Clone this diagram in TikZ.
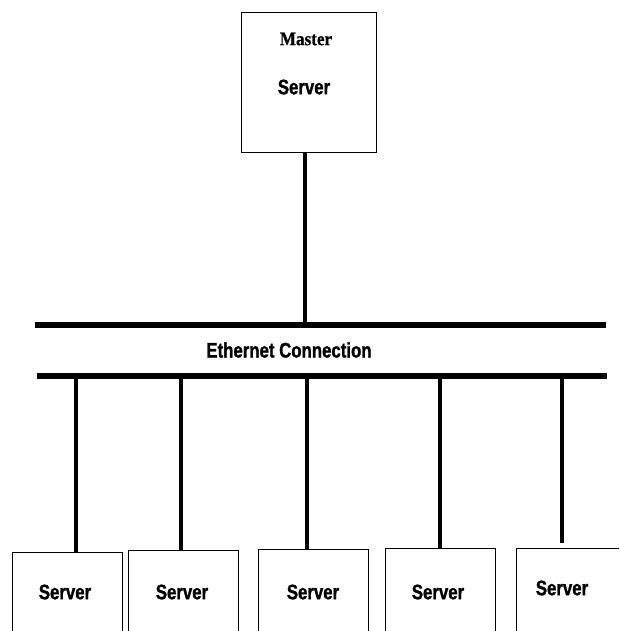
\documentclass[tikz,border=0pt]{standalone}
\usepackage{fontspec}
\newfontfamily\narrowsans[FakeStretch=0.8,FakeBold=1.2]{Liberation Sans}
\newfontfamily\narrowserif[FakeStretch=0.9,FakeBold=0.8]{Liberation Serif}
\begin{document}
\begin{tikzpicture}[x=1pt,y=-1pt,
  box/.style={draw,line width=0.9pt,rectangle,anchor=north west,inner sep=0pt},
  masterbox/.style={draw,line width=1.3pt,rectangle,anchor=north west,inner sep=0pt,
    minimum width=135pt,minimum height=140pt},
  srvbox/.style={box,minimum width=110pt,minimum height=120pt},
  bus/.style={line width=6pt},
  drop/.style={line width=3.2pt},
  lbl/.style={font=\narrowsans\bfseries\fontsize{21}{21}\selectfont,inner sep=0pt},
  mlbl/.style={font=\narrowserif\bfseries\fontsize{19}{19}\selectfont,inner sep=0pt}]
\useasboundingbox (0,0) rectangle (619,631);
\clip (0,0) rectangle (619,631);

% master server
\node[masterbox] (master) at (241,12) {};
\node[mlbl] (mastertxt) at (306,39) {Master};
\node[lbl] (mastersrv) at (304,87) {Server};

% ethernet bus
\coordinate (busAL) at (35,325);
\coordinate (busAR) at (606,325);
\coordinate (busBL) at (37,376);
\coordinate (busBR) at (607,376);
\draw[bus] (busAL) -- (busAR);
\draw[bus] (busBL) -- (busBR);
\node[lbl] (eth) at (289,350) {Ethernet Connection};

% uplink from the master server
\coordinate (upl) at (305,325);
\draw[drop] (master.south -| upl) -- (upl);

% server boxes
\node[srvbox] (s1) at (12,552) {};
\node[srvbox] (s2) at (128,550) {};
\node[srvbox] (s3) at (258,549) {};
\node[srvbox] (s4) at (385,548) {};
\node[srvbox] (s5) at (516,548) {};
\node[lbl] (t1) at (65,592) {Server};
\node[lbl] (t2) at (182,592) {Server};
\node[lbl] (t3) at (313,592) {Server};
\node[lbl] (t4) at (438,592) {Server};
\node[lbl] (t5) at (562,588) {Server};

% drops from the bus
\coordinate (d1) at (76,376);
\coordinate (d2) at (181,376);
\coordinate (d3) at (307,376);
\coordinate (d4) at (440,376);
\coordinate (d5) at (562,376);
\coordinate (e5) at (562,543);
\draw[drop] (d1) -- (d1 |- s1.north);
\draw[drop] (d2) -- (d2 |- s2.north);
\draw[drop] (d3) -- (d3 |- s3.north);
\draw[drop] (d4) -- (d4 |- s4.north);
\draw[drop] (d5) -- (e5);
\end{tikzpicture}
\end{document}
